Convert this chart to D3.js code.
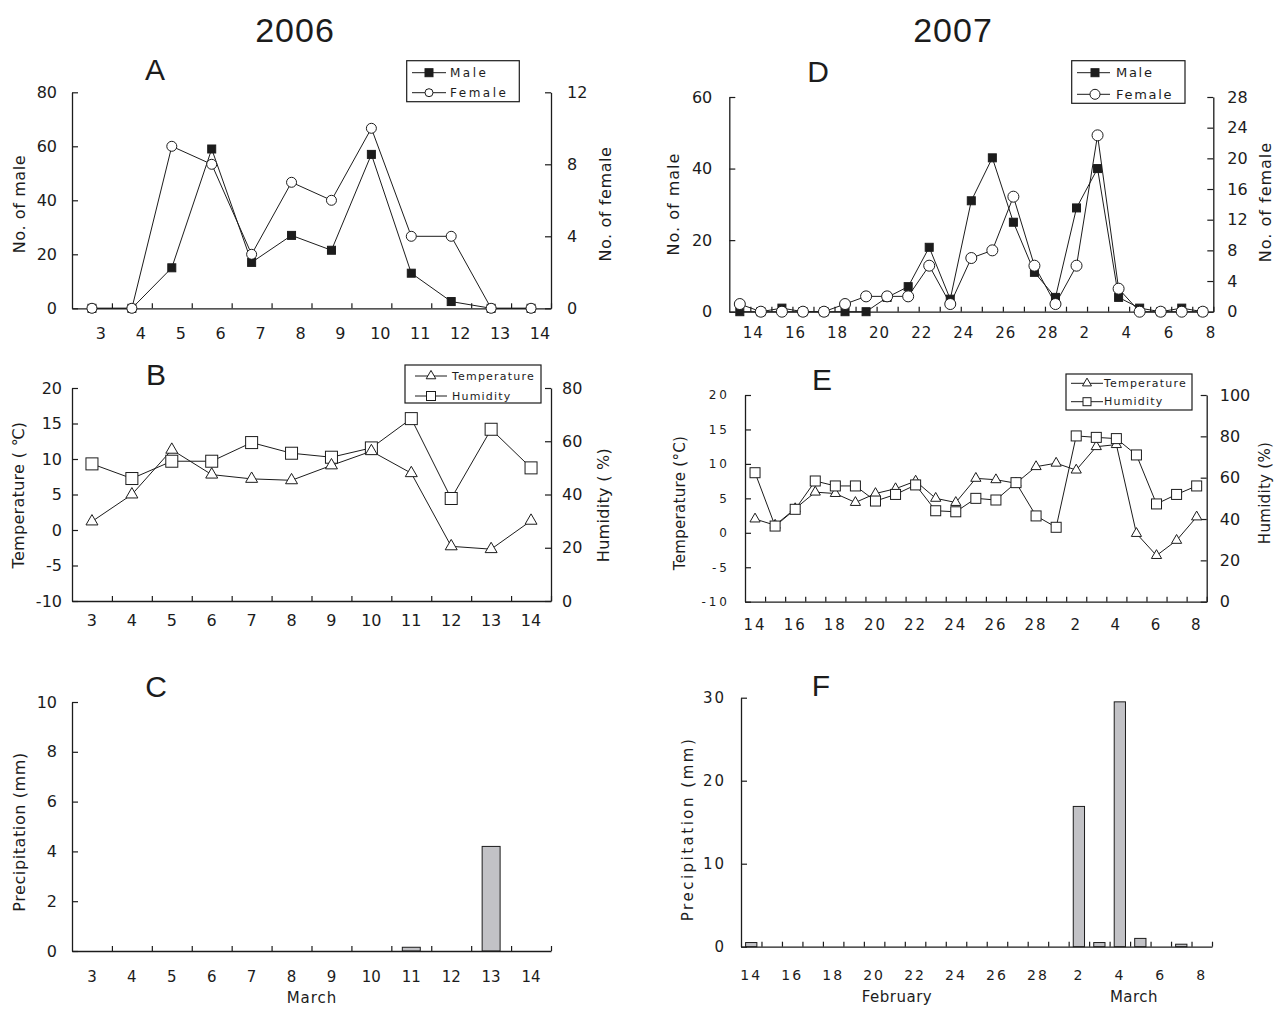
<!DOCTYPE html>
<html>
<head>
<meta charset="utf-8">
<script src="https://cdn.jsdelivr.net/npm/d3@7"></script>
<style>
body { margin: 0; background: #fff; }
svg { display: block; }
</style>
</head>
<body>
<svg id="fig" width="1277" height="1009"></svg>
<script>
// ---- 2006 (March 3 - 14) ----
const days06   = ['3','4','5','6','7','8','9','10','11','12','13','14'];
const male06   = [0, 0, 15, 59, 17, 27, 21.5, 57, 13, 2.5, 0, 0];
const female06 = [0, 0, 9, 8, 3, 7, 6, 10, 4, 4, 0, 0];
const temp06   = [1.2, 5.0, 11.3, 7.8, 7.2, 7.0, 9.1, 11.1, 8.0, -2.3, -2.7, 1.3];
const humid06  = [51.5, 46, 52.5, 52.5, 59.5, 55.5, 54, 57.5, 68.5, 38.5, 64.5, 50];
const rain06   = [0, 0, 0, 0, 0, 0, 0, 0, 0.15, 0, 4.2, 0];

// ---- 2007 (February 14 - March 8) ----
const days07   = ['14','15','16','17','18','19','20','21','22','23','24','25','26','27','28',
                  '1','2','3','4','5','6','7','8'];
const ticks07  = ['14','16','18','20','22','24','26','28','2','4','6','8'];
const male07   = [0, 0, 1, 0, 0, 0, 0, 4, 7, 18, 3.5, 31, 43, 25, 11, 4, 29, 40, 4, 1, 0, 1, 0];
const female07 = [1, 0, 0, 0, 0, 1, 2, 2, 2, 6, 1, 7, 8, 15, 6, 1, 6, 23, 3, 0, 0, 0, 0];
const temp07   = [2.0, 1.1, 3.5, 5.9, 5.7, 4.4, 5.7, 6.4, 7.5, 5.0, 4.4, 7.9, 7.7, 7.2, 9.6, 10.1,
                  9.1, 12.5, 12.8, -0.1, -3.3, -1.1, 2.3];
const humid07  = [62.4, 36.6, 44.7, 58.4, 56, 56, 48.7, 51.9, 56.5, 44, 43.5, 50, 49.2, 57.6, 41.5, 36,
                  80.2, 79.5, 78.9, 71, 47.3, 51.9, 56];
const rain07   = [0.5, 0, 0, 0, 0, 0, 0, 0, 0, 0, 0, 0, 0, 0, 0, 0, 16.9, 0.5, 29.5, 1.0, 0, 0.3, 0];

const ink = '#1c1c1c';
const tickFont = 'DejaVu Sans';
const svg = d3.select('#fig');

function styleAxis(g, o) {
    g.attr('font-family', tickFont);
    g.select('.domain').attr('stroke', ink).attr('stroke-width', 1.3);
    g.selectAll('.tick line').attr('stroke', ink).attr('stroke-width', 1.2);
    g.selectAll('.tick text').attr('fill', ink)
        .style('font-size', o.fs + 'px')
        .style('letter-spacing', (o.ls || 0) + 'px');
}

function marker(g, kind, size, pts) {
    if (kind == 'sqFill' || kind == 'sqOpen') {
        g.selectAll(null).data(pts).join('rect')
            .attr('x', d => d[0] - size / 2).attr('y', d => d[1] - size / 2)
            .attr('width', size).attr('height', size)
            .attr('fill', kind == 'sqFill' ? ink : '#fff')
            .attr('stroke', ink).attr('stroke-width', 1);
    } else if (kind == 'circle') {
        g.selectAll(null).data(pts).join('circle')
            .attr('cx', d => d[0]).attr('cy', d => d[1]).attr('r', size)
            .attr('fill', '#fff').attr('stroke', ink).attr('stroke-width', 1);
    } else {
        g.selectAll(null).data(pts).join('path')
            .attr('transform', d => 'translate(' + d[0] + ',' + d[1] + ')')
            .attr('d', d3.symbol().type(d3.symbolTriangle).size(size))
            .attr('fill', '#fff').attr('stroke', ink).attr('stroke-width', 1);
    }
}

function bottomAxis(g, x, y, lab) {
    const n = x.domain().length;
    const lin = d3.scaleLinear().domain([0, n]).range(x.range());
    g.append('g').attr('transform', 'translate(0,' + y + ')')
        .call(d3.axisBottom(lin).tickValues(d3.range(1, n + 1)).tickSizeInner(-5).tickSizeOuter(0).tickFormat(''))
        .call(styleAxis, {fs: 10});
    g.append('g').selectAll('text').data(lab.values).join('text')
        .attr('x', d => x(d) + x.bandwidth() / 2 + (lab.dx || 0))
        .attr('y', lab.base)
        .attr('text-anchor', lab.anchor || 'middle')
        .attr('font-family', tickFont).attr('fill', ink)
        .style('font-size', lab.fs + 'px')
        .style('letter-spacing', (lab.ls || 0) + 'px')
        .text(d => d);
}

function vAxis(g, side, xpos, scale, o) {
    const ax = (side == 'L' ? d3.axisLeft(scale) : d3.axisRight(scale))
        .tickValues(o.ticks).tickSizeInner(-6).tickSizeOuter(0).tickPadding(o.pad)
        .tickFormat(d => String(d));
    g.append('g').attr('transform', 'translate(' + xpos + ',0)').call(ax).call(styleAxis, o);
}

function vTitle(x, y, txt, fs, ls) {
    svg.append('text')
        .attr('transform', 'translate(' + x + ',' + y + ') rotate(-90)')
        .attr('text-anchor', 'middle').attr('dominant-baseline', 'central')
        .attr('font-family', tickFont).attr('fill', ink)
        .style('font-size', fs + 'px').style('letter-spacing', (ls || 0) + 'px')
        .text(txt);
}

function plainText(x, y, txt, fs, family, ls) {
    svg.append('text').attr('x', x).attr('y', y)
        .attr('text-anchor', 'middle')
        .attr('font-family', family || tickFont).attr('fill', ink)
        .style('font-size', fs + 'px').style('letter-spacing', (ls || 0) + 'px')
        .text(txt);
}

function linePanel(p) {
    const g = svg.append('g');
    const x = d3.scaleBand().domain(p.cats).range([p.x0, p.x1]);
    const cx = d => x(d) + x.bandwidth() / 2;
    const yL = d3.scaleLinear().domain(p.left.domain).range([p.y1, p.y0]);
    const yR = d3.scaleLinear().domain(p.right.domain).range([p.y1, p.y0]);

    vAxis(g, 'L', p.x0, yL, p.left);
    vAxis(g, 'R', p.x1, yR, p.right);
    bottomAxis(g, x, p.y1, p.labels);

    p.series.forEach(s => {
        const y = s.axis == 'L' ? yL : yR;
        g.append('path').datum(s.values)
            .attr('fill', 'none').attr('stroke', ink).attr('stroke-width', 1)
            .attr('d', d3.line().x((d, i) => cx(p.cats[i])).y(d => y(d)));
    });
    p.series.forEach(s => {
        const y = s.axis == 'L' ? yL : yR;
        marker(g.append('g'), s.kind, s.size, s.values.map((d, i) => [cx(p.cats[i]), y(d)]));
    });
}

function barPanel(p) {
    const g = svg.append('g');
    const x = d3.scaleBand().domain(p.cats).range([p.x0, p.x1]).paddingInner(p.pad).paddingOuter(p.pad / 2);
    const xb = d3.scaleBand().domain(p.cats).range([p.x0, p.x1]);
    const y = d3.scaleLinear().domain(p.left.domain).range([p.y1, p.y0]);

    g.append('g').selectAll('rect').data(p.values).join('rect')
        .attr('x', (d, i) => x(p.cats[i]))
        .attr('y', d => y(d))
        .attr('width', x.bandwidth())
        .attr('height', d => y(0) - y(d))
        .attr('fill', '#c2c2c6').attr('stroke', ink).attr('stroke-width', 1)
        .attr('display', d => d > 0 ? null : 'none');

    vAxis(g, 'L', p.x0, y, p.left);
    bottomAxis(g, xb, p.y1, p.labels);
}

function legend(b, items) {
    const g = svg.append('g');
    g.append('rect').attr('x', b.x).attr('y', b.y).attr('width', b.w).attr('height', b.h)
        .attr('fill', '#fff').attr('stroke', ink).attr('stroke-width', 1.2);
    items.forEach(it => {
        g.append('line').attr('x1', b.l0).attr('x2', b.l1).attr('y1', it.y).attr('y2', it.y)
            .attr('stroke', ink).attr('stroke-width', 1);
        marker(g.append('g'), it.kind, it.size, [[b.m, it.y]]);
        g.append('text').attr('x', b.tx).attr('y', it.y).attr('dominant-baseline', 'central')
            .attr('font-family', tickFont).attr('fill', ink)
            .style('font-size', b.fs + 'px').style('letter-spacing', b.ls + 'px')
            .text(it.label);
    });
}

// ---------------- headings ----------------
plainText(295, 42, '2006', 34, 'Liberation Sans', 1);
plainText(953, 42, '2007', 34, 'Liberation Sans', 1);
[['A', 155, 80], ['B', 156, 385], ['C', 156, 697], ['D', 818, 82], ['E', 822, 390], ['F', 821, 696]]
    .forEach(t => plainText(t[1], t[2], t[0], 30, 'Liberation Sans'));

// ---------------- A ----------------
linePanel({
    cats: days06, x0: 72, x1: 551, y0: 92.3, y1: 308.3,
    left:  {domain: [0, 80], ticks: [0, 20, 40, 60, 80], fs: 16, pad: 15},
    right: {domain: [0, 12], ticks: [0, 4, 8, 12], fs: 16, pad: 16},
    labels: {values: days06, dx: 9, base: 338.5, fs: 16},
    series: [
        {values: male06, axis: 'L', kind: 'sqFill', size: 8},
        {values: female06, axis: 'R', kind: 'circle', size: 5}
    ]
});
vTitle(19, 204, 'No. of male', 16, 0.6);
vTitle(605, 204, 'No. of female', 16, 0.6);
legend({x: 406.7, y: 60.7, w: 112.6, h: 41, l0: 412, l1: 446, m: 429, tx: 450, fs: 12, ls: 2.5},
    [{label: 'Male', kind: 'sqFill', size: 8, y: 72.7}, {label: 'Female', kind: 'circle', size: 4, y: 92.7}]);

// ---------------- B ----------------
linePanel({
    cats: days06, x0: 72, x1: 551, y0: 388, y1: 601,
    left:  {domain: [-10, 20], ticks: [-10, -5, 0, 5, 10, 15, 20], fs: 16, pad: 10},
    right: {domain: [0, 80], ticks: [0, 20, 40, 60, 80], fs: 16, pad: 11},
    labels: {values: days06, base: 626, fs: 16},
    series: [
        {values: humid06, axis: 'R', kind: 'sqOpen', size: 12},
        {values: temp06, axis: 'L', kind: 'tri', size: 62}
    ]
});
vTitle(18, 495, 'Temperature ( \u2103)', 16, 0.3);
vTitle(603, 505, 'Humidity ( %)', 16, 0.3);
legend({x: 405, y: 365, w: 136, h: 38, l0: 415, l1: 447, m: 431, tx: 452, fs: 11, ls: 1.2},
    [{label: 'Temperature', kind: 'tri', size: 40, y: 376}, {label: 'Humidity', kind: 'sqOpen', size: 9, y: 396}]);

// ---------------- C ----------------
barPanel({
    cats: days06, values: rain06, x0: 72, x1: 551, y0: 702, y1: 951, pad: 0.55,
    left: {domain: [0, 10], ticks: [0, 2, 4, 6, 8, 10], fs: 16, pad: 15},
    labels: {values: days06, base: 982, fs: 15}
});
vTitle(19.5, 832, 'Precipitation (mm)', 16, 0.6);
plainText(312, 1003, 'March', 15, tickFont, 1);

// ---------------- D ----------------
linePanel({
    cats: days07, x0: 729.3, x1: 1213.3, y0: 97, y1: 311.7,
    left:  {domain: [0, 60], ticks: [0, 20, 40, 60], fs: 16, pad: 17},
    right: {domain: [0, 28], ticks: [0, 4, 8, 12, 16, 20, 24, 28], fs: 16, pad: 14},
    labels: {values: ticks07, dx: 3, anchor: 'start', base: 338, fs: 15, ls: 1},
    series: [
        {values: male07, axis: 'L', kind: 'sqFill', size: 8},
        {values: female07, axis: 'R', kind: 'circle', size: 5.5}
    ]
});
vTitle(673, 204, 'No. of male', 16, 1);
vTitle(1265, 202, 'No. of female', 16, 1);
legend({x: 1071.7, y: 60.7, w: 113.3, h: 42.6, l0: 1077, l1: 1110, m: 1095, tx: 1116, fs: 13, ls: 1.7},
    [{label: 'Male', kind: 'sqFill', size: 8, y: 72.7}, {label: 'Female', kind: 'circle', size: 5, y: 94.3}]);

// ---------------- E ----------------
linePanel({
    cats: days07, x0: 745, x1: 1206.7, y0: 395, y1: 601.7,
    left:  {domain: [-10, 20], ticks: [-10, -5, 0, 5, 10, 15, 20], fs: 12, ls: 3, pad: 15},
    right: {domain: [0, 100], ticks: [0, 20, 40, 60, 80, 100], fs: 16, pad: 13},
    labels: {values: ticks07, base: 630, fs: 15, ls: 2},
    series: [
        {values: temp07, axis: 'L', kind: 'tri', size: 45},
        {values: humid07, axis: 'R', kind: 'sqOpen', size: 10}
    ]
});
vTitle(680, 503, 'Temperature (\u00b0C)', 15, 0.3);
vTitle(1265, 493, 'Humidity (%)', 15, 0.3);
legend({x: 1066, y: 374, w: 126, h: 36, l0: 1071, l1: 1103, m: 1087, tx: 1104, fs: 11, ls: 1.2},
    [{label: 'Temperature', kind: 'tri', size: 35, y: 383.3}, {label: 'Humidity', kind: 'sqOpen', size: 8, y: 401.7}]);

// ---------------- F ----------------
barPanel({
    cats: days07, values: rain07, x0: 741, x1: 1212, y0: 697.7, y1: 946.7, pad: 0.45,
    left: {domain: [0, 30], ticks: [0, 10, 20, 30], fs: 15, ls: 2, pad: 15},
    labels: {values: ticks07, base: 980, fs: 14, ls: 2}
});
vTitle(688, 829, 'Precipitation (mm)', 15, 2.5);
plainText(897, 1002, 'February', 15, tickFont, 0.5);
plainText(1134, 1002, 'March', 15, tickFont, 0.5);
</script>
</body>
</html>
